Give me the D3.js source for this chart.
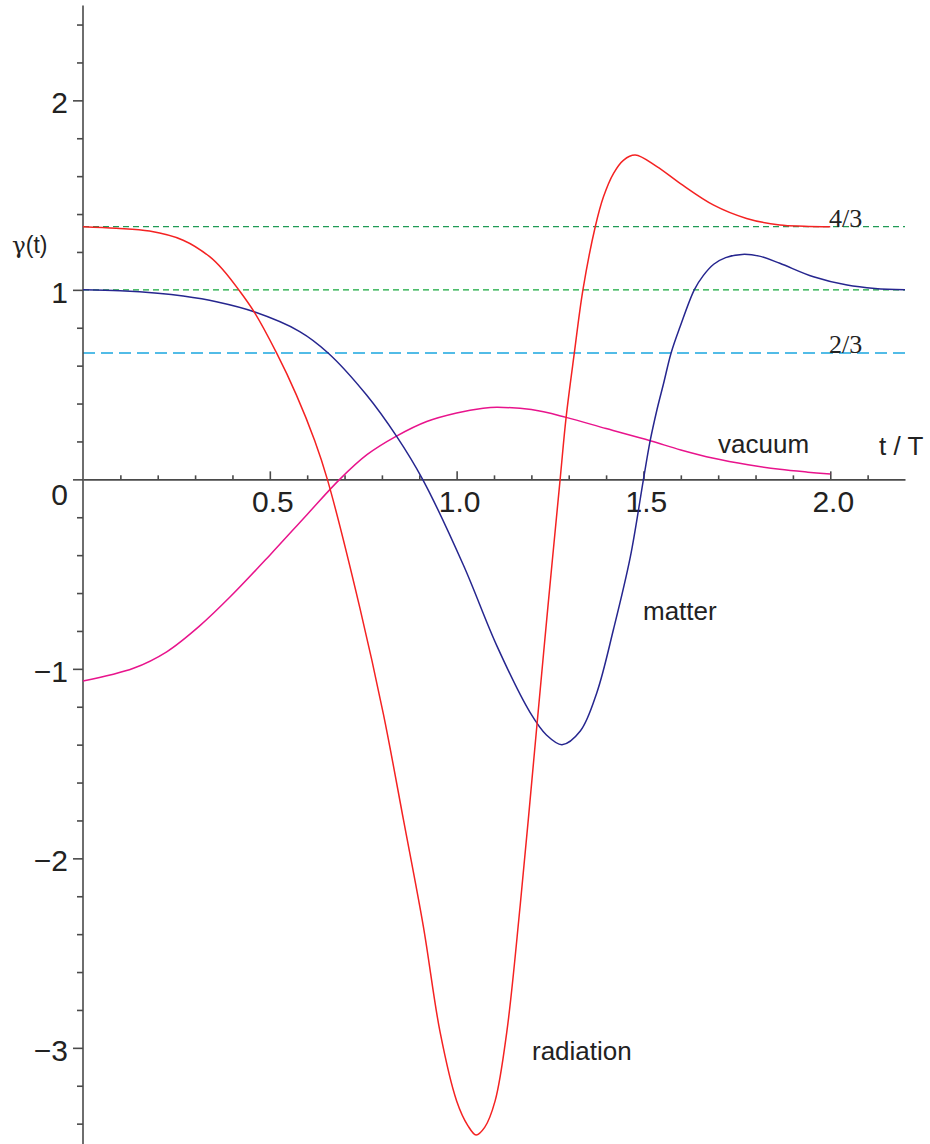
<!DOCTYPE html>
<html lang="en">
<head>
    <meta charset="UTF-8">
    <title>gamma(t) for radiation, matter and vacuum</title>
    <script src="https://cdnjs.cloudflare.com/ajax/libs/d3/7.8.5/d3.min.js"></script>
    <style>
        body {
            margin: 0;
            padding: 0;
            background-color: white;
        }
        svg text {
            font-family: "Liberation Sans", Arial, sans-serif;
            fill: #222;
        }
        .frac {
            font-family: "Liberation Serif", "Times New Roman", serif !important;
        }
    </style>
</head>
<body>
    <div id="chart"></div>

    <script>
        // radiation curve (red)
        const tRad = [0, 0.089, 0.178, 0.268, 0.339, 0.375, 0.417, 0.458, 0.518, 0.571, 0.62, 0.654, 0.741, 0.804, 0.858, 0.911, 0.956, 1.0, 1.03, 1.052, 1.075, 1.103, 1.134, 1.17, 1.215, 1.244, 1.277, 1.293, 1.315, 1.338, 1.371, 1.393, 1.42, 1.447, 1.478, 1.536, 1.598, 1.688, 1.776, 1.865, 1.93, 2.0];
        const gRad = [1.333, 1.325, 1.31, 1.262, 1.175, 1.105, 1.0, 0.884, 0.667, 0.446, 0.205, 0, -0.678, -1.239, -1.80, -2.36, -2.92, -3.28, -3.41, -3.46, -3.42, -3.28, -2.92, -2.25, -1.295, -0.678, 0, 0.327, 0.667, 1.0, 1.333, 1.491, 1.615, 1.685, 1.711, 1.65, 1.562, 1.447, 1.377, 1.342, 1.336, 1.333];

        // matter curve (blue)
        const tMat = [0, 0.1, 0.2, 0.268, 0.357, 0.458, 0.58, 0.656, 0.759, 0.839, 0.909, 1.018, 1.108, 1.196, 1.241, 1.282, 1.331, 1.375, 1.42, 1.465, 1.5, 1.518, 1.536, 1.554, 1.574, 1.598, 1.636, 1.66, 1.688, 1.72, 1.764, 1.81, 1.865, 1.955, 2.045, 2.12, 2.2];
        const gMat = [1.0, 0.995, 0.982, 0.967, 0.937, 0.884, 0.78, 0.667, 0.445, 0.228, 0, -0.452, -0.88, -1.228, -1.35, -1.40, -1.328, -1.127, -0.79, -0.408, 0, 0.204, 0.366, 0.507, 0.667, 0.805, 1.0, 1.075, 1.135, 1.17, 1.187, 1.178, 1.14, 1.069, 1.025, 1.007, 1.0];

        // vacuum curve (magenta)
        const tVac = [0, 0.135, 0.224, 0.313, 0.394, 0.5, 0.6, 0.687, 0.76, 0.839, 0.92, 1.0, 1.071, 1.108, 1.2, 1.293, 1.4, 1.518, 1.6, 1.688, 1.78, 1.865, 1.94, 2.0];
        const gVac = [-1.064, -0.997, -0.91, -0.772, -0.62, -0.40, -0.185, 0, 0.13, 0.228, 0.305, 0.35, 0.375, 0.38, 0.368, 0.327, 0.268, 0.204, 0.155, 0.111, 0.077, 0.053, 0.038, 0.028];

        // reference levels
        const levels = [4 / 3, 1, 2 / 3];
        const levelColors = ["#1f9a55", "#14a83c", "#1aa6e0"];
        const levelDash = ["6,4", "6,4", "12,6"];
        const levelText = ["4/3", null, "2/3"];

        const xTickLabels = ["0.5", "1.0", "1.5", "2.0"];
        const yTickValues = [2, 1, 0, -1, -2, -3];
        const yTickLabels = ["2", "1", "0", "\u22121", "\u22122", "\u22123"];

        const width = 930;
        const height = 1144;

        const x = d3.scaleLinear().domain([0, 2.2]).range([83, 905]);
        const y = d3.scaleLinear().domain([-3.5, 2.5]).range([1142.6, 5.6]);

        const svg = d3.select("#chart")
            .append("svg")
            .attr("width", width)
            .attr("height", height)
            .style("background", "white");

        // dashed reference lines
        levels.forEach((v, i) => {
            svg.append("line")
                .attr("x1", x(0))
                .attr("x2", x(2.2))
                .attr("y1", y(v))
                .attr("y2", y(v))
                .attr("stroke", levelColors[i])
                .attr("stroke-width", 1.3)
                .attr("stroke-dasharray", levelDash[i]);
        });

        // axes
        const axisColor = "#4a4a4a";
        const minorY = d3.range(-17, 13).map(k => k * 0.2).filter(v => Math.abs(v - Math.round(v)) > 1e-6);
        const minorX = d3.range(1, 22).map(k => k / 10).filter(v => Math.abs(v * 2 - Math.round(v * 2)) > 1e-6);

        const gy = svg.append("g")
            .attr("transform", `translate(${x(0)},0)`)
            .call(d3.axisLeft(y).tickValues(minorY).tickSize(6).tickSizeOuter(0).tickFormat(""));
        svg.append("g")
            .attr("transform", `translate(${x(0)},0)`)
            .call(d3.axisLeft(y).tickValues(yTickValues).tickSize(10).tickSizeOuter(0).tickFormat(""))
            .select(".domain").remove();
        gy.select(".domain").attr("d", `M0,${y(2.5)}V${height}`);

        svg.append("g")
            .attr("transform", `translate(0,${y(0)})`)
            .call(d3.axisTop(x).tickValues(minorX).tickSize(4).tickSizeOuter(0).tickFormat(""));
        svg.append("g")
            .attr("transform", `translate(0,${y(0)})`)
            .call(d3.axisTop(x).tickValues([0.5, 1, 1.5, 2]).tickSize(8).tickSizeOuter(0).tickFormat(""))
            .select(".domain").remove();

        svg.selectAll(".domain, .tick line")
            .attr("stroke", axisColor)
            .attr("stroke-width", 1.6);

        // tick labels
        svg.append("g")
            .selectAll("text")
            .data(xTickLabels)
            .join("text")
            .attr("x", d => x(+d) + 3)
            .attr("y", 512)
            .attr("text-anchor", "middle")
            .attr("font-size", 30)
            .text(d => d);

        svg.append("g")
            .selectAll("text")
            .data(yTickValues)
            .join("text")
            .attr("x", 68)
            .attr("y", d => d === 0 ? y(0) + 25.7 : y(d) + 13)
            .attr("text-anchor", "end")
            .attr("font-size", 30)
            .text((d, i) => yTickLabels[i]);

        // curves
        const line = d3.line()
            .x(d => x(d[0]))
            .y(d => y(d[1]))
            .curve(d3.curveCatmullRom.alpha(0.5));

        const series = [
            {t: tVac, g: gVac, color: "#e8148c"},
            {t: tMat, g: gMat, color: "#26268f"},
            {t: tRad, g: gRad, color: "#f42222"}
        ];

        svg.append("g")
            .selectAll("path")
            .data(series)
            .join("path")
            .attr("d", s => line(s.t.map((t, i) => [t, s.g[i]])))
            .attr("fill", "none")
            .attr("stroke", s => s.color)
            .attr("stroke-width", 1.5);

        // fraction labels on reference lines
        levels.forEach((v, i) => {
            if (!levelText[i]) return;
            svg.append("text")
                .attr("class", "frac")
                .attr("x", 829)
                .attr("y", y(v))
                .attr("font-size", 26)
                .text(levelText[i]);
        });

        // other text
        const gam = svg.append("text").attr("x", 12).attr("y", 253).attr("font-size", 23);
        gam.append("tspan").style("font-family", "'DejaVu Serif', serif").text("\u03b3");
        gam.append("tspan").text("(t)");
        svg.append("text").attr("x", 879).attr("y", 455).attr("font-size", 26).text("t / T");
        svg.append("text").attr("x", 718).attr("y", 453).attr("font-size", 26).text("vacuum");
        svg.append("text").attr("x", 643).attr("y", 620).attr("font-size", 26).text("matter");
        svg.append("text").attr("x", 532).attr("y", 1060).attr("font-size", 26).text("radiation");
    </script>
</body>
</html>
